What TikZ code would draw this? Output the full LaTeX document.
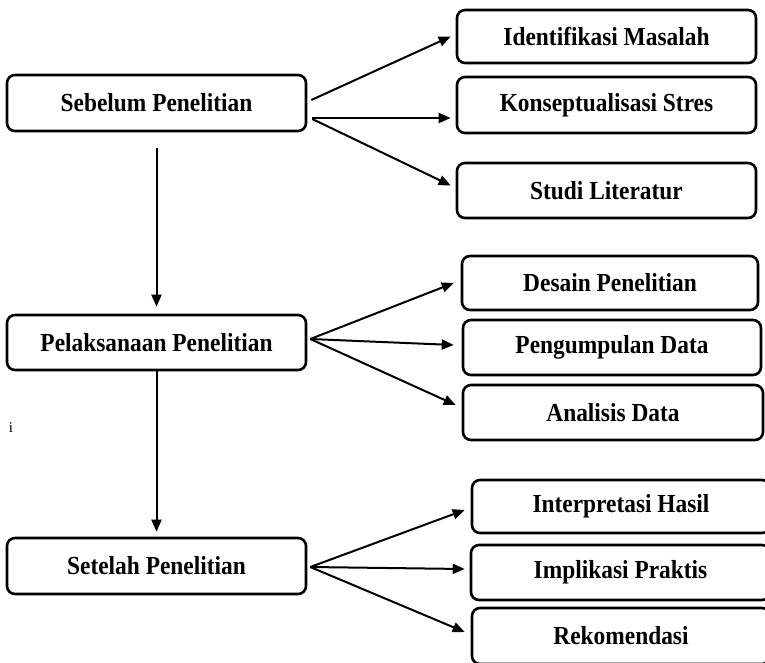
\documentclass[tikz,border=0pt]{standalone}
\usepackage{fontspec}
\setmainfont{Liberation Serif}
\newfontfamily\boxfont[FakeStretch=0.9]{Liberation Serif}
\usetikzlibrary{arrows.meta}
\begin{document}
\begin{tikzpicture}[x=1pt,y=-1pt,
  box/.style={draw=black, line width=2.6pt, rounded corners=8pt, fill=white,
    inner sep=0pt, align=center, font=\boxfont\fontsize{26}{30}\selectfont\bfseries},
  arr/.style={line width=2pt, -{Triangle[length=12pt,width=10pt]}}]
\useasboundingbox (0,0) rectangle (765,662);
% left column
\node[box, minimum width=299pt, minimum height=56pt] (seb) at (156.5,103) {Sebelum Penelitian};
\node[box, minimum width=299pt, minimum height=55pt] (pel) at (156.5,342.5) {Pelaksanaan Penelitian};
\node[box, minimum width=299pt, minimum height=56pt] (set) at (156.5,566) {Setelah Penelitian};
% right column, group 1
\node[box, minimum width=299pt, minimum height=53pt] (idm) at (606.5,36.5) {Identifikasi Masalah};
\node[box, minimum width=299pt, minimum height=56pt] (kon) at (606.5,105) {Konseptualisasi Stres};
\node[box, minimum width=299pt, minimum height=55pt] (stu) at (606.5,190.5) {Studi Literatur};
% group 2
\node[box, minimum width=296pt, minimum height=54pt] (des) at (610,283) {Desain Penelitian};
\node[box, minimum width=298pt, minimum height=55pt] (pen) at (612,347.5) {Pengumpulan Data};
\node[box, minimum width=300pt, minimum height=55pt] (ana) at (613,412.5) {Analisis Data};
% group 3
\node[box, minimum width=298pt, minimum height=53pt] (int) at (621,506.5) {Interpretasi Hasil};
\node[box, minimum width=299pt, minimum height=55pt] (imp) at (620.5,572.5) {Implikasi Praktis};
\node[box, minimum width=298pt, minimum height=56pt] (rek) at (621,636) {Rekomendasi};
% stray letter
\node[font=\fontsize{15}{17}\selectfont, inner sep=0pt] (ii) at (11,428) {i};
% vertical arrows
\draw[arr] ([yshift=-16pt]seb.south) -- ([yshift=7pt]pel.north);
\draw[arr] (pel.south) -- ([yshift=5pt]set.north);
% arrows from Sebelum
\draw[arr] ([xshift=4pt,yshift=3pt]seb.east) -- ([xshift=-5pt]idm.west);
\draw[arr] ([xshift=5pt,yshift=-15pt]seb.east) -- ([xshift=-5pt,yshift=-13pt]kon.west);
\draw[arr] ([xshift=5pt,yshift=-16pt]seb.east) -- ([xshift=-5pt,yshift=5pt]stu.west);
% arrows from Pelaksanaan
\draw[arr] ([xshift=3pt,yshift=3.5pt]pel.east) -- ([xshift=-7pt]des.west);
\draw[arr] ([xshift=3pt,yshift=3.5pt]pel.east) -- ([xshift=-8pt,yshift=2.5pt]pen.west);
\draw[arr] ([xshift=3pt,yshift=3.5pt]pel.east) -- ([xshift=-6pt,yshift=7.5pt]ana.west);
% arrows from Setelah
\draw[arr] ([xshift=3pt,yshift=-1pt]set.east) -- ([xshift=-6pt,yshift=-3.5pt]int.west);
\draw[arr] ([xshift=3pt,yshift=-1pt]set.east) -- ([xshift=-5pt,yshift=3.5pt]imp.west);
\draw[arr] ([xshift=3pt,yshift=-1pt]set.east) -- ([xshift=-6pt,yshift=4pt]rek.west);
\end{tikzpicture}
\end{document}
